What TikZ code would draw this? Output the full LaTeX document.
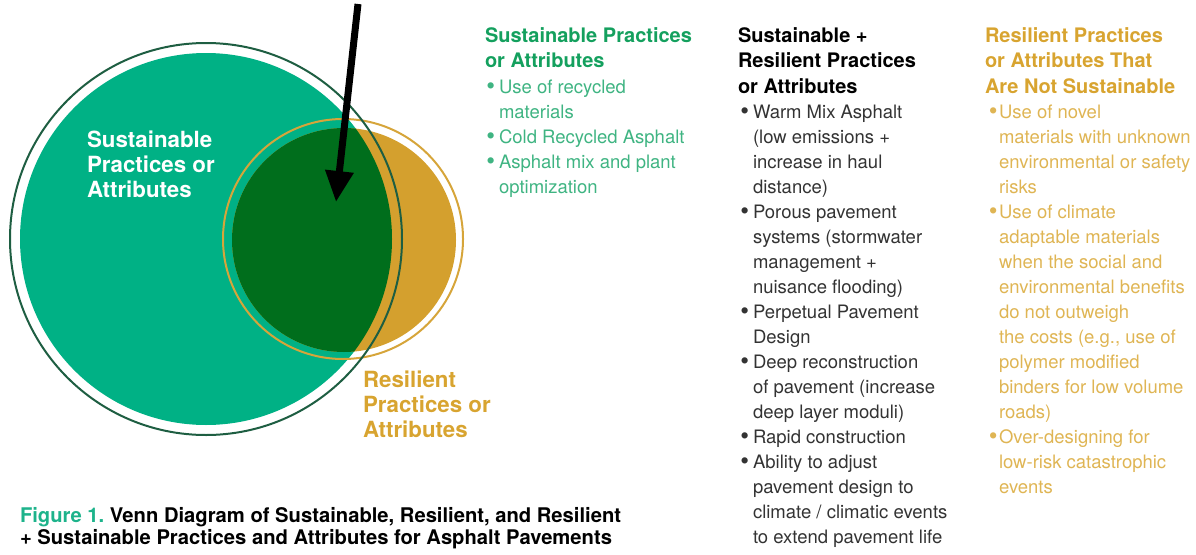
\documentclass[tikz,border=0pt]{standalone}
\usepackage{fontspec}
\setmainfont{TeX Gyre Heros}
\frenchspacing
\usetikzlibrary{arrows.meta}
\definecolor{tealfill}{HTML}{00B185}
\definecolor{darkfill}{HTML}{006E1C}
\definecolor{goldfill}{HTML}{D4A02E}
\definecolor{ringgreen}{HTML}{1E5E42}
\definecolor{ringgold}{HTML}{D6A53A}
\definecolor{hgreen}{HTML}{14A05E}
\definecolor{bgreen}{HTML}{3FB482}
\definecolor{hgold}{HTML}{D8A430}
\definecolor{bgold}{HTML}{DFB554}
\definecolor{bgray}{HTML}{333333}
\definecolor{capteal}{HTML}{1DB38B}
\newcommand{\mybul}[1]{\llap{\raisebox{-1.6pt}{\fontsize{25}{25}\selectfont\textbullet}\hspace{#1}}}
\begin{document}
\begin{tikzpicture}[x=1pt,y=1pt,
  every node/.style={inner sep=0pt,outer sep=0pt},
  headtext/.style={anchor=base west,align=left,font=\fontsize{20}{25.5}\selectfont\bfseries},
  bodytext/.style={anchor=base west,align=left,font=\fontsize{18.5}{25}\selectfont},
  circlabel/.style={anchor=base west,align=left,font=\fontsize{22.3}{25}\selectfont\bfseries},
  captext/.style={anchor=base west,align=left,font=\fontsize{20.2}{22}\selectfont\bfseries},
  ring/.style={line width=2pt},
  pointer/.style={line width=7pt,-{Triangle[length=31pt,width=27pt]}}]
\useasboundingbox (0,0) rectangle (1196,-554);
% Venn circles
\fill[tealfill] (206,-239) circle[radius=186];
\fill[goldfill] (344,-240) circle[radius=112];
\begin{scope}
  \clip (206,-239) circle[radius=186];
  \fill[darkfill] (344,-240) circle[radius=112];
\end{scope}
\draw[ring,ringgold] (343,-239) circle[radius=120];
\draw[ring,ringgreen] (206,-239) circle[radius=196];
% circle labels (anchor = baseline of last line)
\node[circlabel,white] (slab) at (87,-197) {Sustainable\\Practices or\\Attributes};
\node[circlabel,hgold] (rlab) at (363,-437) {Resilient\\Practices or\\Attributes};
% arrow
\coordinate (arrtop) at (358,-4);
\coordinate (arrtip) at (336,-202);
\draw[pointer,black] (arrtop) -- (arrtip);
% column 1
\node[headtext,hgreen] (h1) at (485,-67.5) {Sustainable Practices\\or Attributes};
\node[bodytext,bgreen] (b1) at (499,-193) {%
\mybul{4pt}Use of recycled\\
materials\\
\mybul{4pt}Cold Recycled Asphalt\\
\mybul{4pt}Asphalt mix and plant\\
optimization};
% column 2
\node[headtext,black] (h2) at (738,-93) {Sustainable +\\Resilient Practices\\or Attributes};
\node[bodytext,bgray] (b2) at (753,-543) {%
\mybul{4pt}Warm Mix Asphalt\\
(low emissions +\\
increase in haul\\
distance)\\
\mybul{4pt}Porous pavement\\
systems (stormwater\\
management +\\
nuisance flooding)\\
\mybul{4pt}Perpetual Pavement\\
Design\\
\mybul{4pt}Deep reconstruction\\
of pavement (increase\\
deep layer moduli)\\
\mybul{4pt}Rapid construction\\
\mybul{4pt}Ability to adjust\\
pavement design to\\
climate / climatic events\\
to extend pavement life};
% column 3
\node[headtext,hgold] (h3) at (985,-93) {Resilient Practices\\or Attributes That\\Are Not Sustainable};
\node[bodytext,bgold] (b3) at (999,-493) {%
\mybul{1.5pt}Use of novel\\
materials with unknown\\
environmental or safety\\
risks\\
\mybul{1.5pt}Use of climate\\
adaptable materials\\
when the social and\\
environmental benefits\\
do not outweigh\\
the costs (e.g., use of\\
polymer modified\\
binders for low volume\\
roads)\\
\mybul{1.5pt}Over-designing for\\
low-risk catastrophic\\
events};
% caption
\node[captext,black] (cap) at (20,-544) {{\color{capteal}Figure 1.} Venn Diagram of Sustainable, Resilient, and Resilient\\+ Sustainable Practices and Attributes for Asphalt Pavements};
\end{tikzpicture}
\end{document}
